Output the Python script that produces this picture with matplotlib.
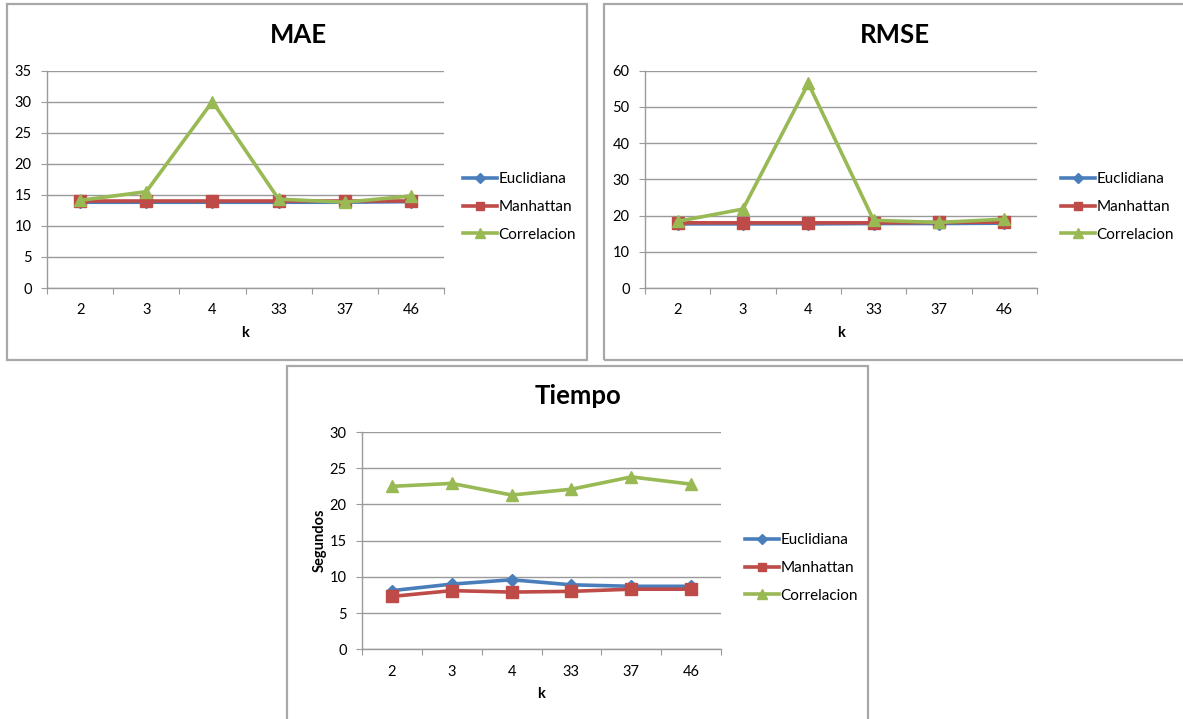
import numpy as np
import matplotlib.pyplot as plt
from matplotlib.patches import Rectangle
from matplotlib.lines import Line2D

plt.rcParams['font.family'] = ['Lato', 'DejaVu Sans']

W, H = 1183, 719

k_labels = ['2', '3', '4', '33', '37', '46']
series_names = ['Euclidiana', 'Manhattan', 'Correlacion']

mae_euc = [13.8, 13.8, 13.8, 13.8, 13.8, 13.9]
mae_man = [14.0, 14.0, 14.0, 14.0, 14.0, 14.0]
mae_cor = [14.1, 15.5, 30.0, 14.3, 13.8, 14.8]

rmse_euc = [17.7, 17.7, 17.7, 17.8, 17.8, 17.9]
rmse_man = [18.0, 18.0, 18.0, 18.0, 18.1, 18.2]
rmse_cor = [18.4, 21.8, 56.5, 18.7, 18.1, 19.0]

t_euc = [8.1, 9.0, 9.6, 8.9, 8.7, 8.7]
t_man = [7.3, 8.1, 7.9, 8.0, 8.3, 8.3]
t_cor = [22.5, 22.9, 21.3, 22.1, 23.8, 22.8]

colors = ['#4A7EBB', '#BE4B48', '#98B954']
markers = ['D', 's', '^']
msizes = [6, 8, 8.5]
grid_c = '#9a9a9a'
fs = 10.5


def px_axes(fig, x0, y0, x1, y1):
    return fig.add_axes([x0 / W, 1 - y1 / H, (x1 - x0) / W, (y1 - y0) / H])


def draw_box(fig, x0, y0, x1, y1):
    fig.add_artist(Rectangle((x0 / W, 1 - y1 / H), (x1 - x0) / W, (y1 - y0) / H,
                             transform=fig.transFigure, fill=False,
                             edgecolor='#a8a8a8', linewidth=1.6))


def chart(fig, rect, title, title_pos, data, ymax, ystep, leg_pos, ylabel=None):
    ax = px_axes(fig, *rect)
    x = np.arange(len(k_labels))
    for vals, c, m, ms, name in zip(data, colors, markers, msizes, series_names):
        ax.plot(x, vals, color=c, lw=2.6, marker=m, ms=ms, mfc=c, mec=c,
                label=name, clip_on=False)
    ax.set_xlim(-0.5, len(k_labels) - 0.5)
    ax.set_ylim(0, ymax)
    ax.set_yticks(np.arange(0, ymax + 0.1, ystep))
    ax.yaxis.grid(True, color=grid_c, lw=1.0)
    ax.set_axisbelow(True)
    for s in ['top', 'right']:
        ax.spines[s].set_visible(False)
    for s in ['left', 'bottom']:
        ax.spines[s].set_color(grid_c)
        ax.spines[s].set_linewidth(1.0)
    # tick marks between categories, labels centred on them
    ax.set_xticks(np.arange(-0.5, len(k_labels), 1.0))
    ax.set_xticklabels([])
    ax.set_xticks(x, minor=True)
    ax.set_xticklabels(k_labels, minor=True)
    ax.tick_params(axis='x', which='major', length=4, color=grid_c)
    ax.tick_params(axis='x', which='minor', length=0, pad=11, labelsize=fs)
    ax.tick_params(axis='y', length=4, color=grid_c, pad=7, labelsize=fs)
    ax.set_xlabel('k', fontweight='bold', fontsize=fs, labelpad=6)
    if ylabel:
        ax.set_ylabel(ylabel, fontweight='bold', fontsize=fs, labelpad=2)
    fig.text(title_pos[0] / W, 1 - title_pos[1] / H, title, ha='center',
             va='center', fontsize=18.5, fontweight='bold')
    handles = [Line2D([], [], color=c, lw=2.6, marker=m, ms=ms * 0.8)
               for c, m, ms in zip(colors, markers, msizes)]
    fig.legend(handles, series_names, loc='center left', frameon=False,
               bbox_to_anchor=(leg_pos[0] / W, 1 - leg_pos[1] / H),
               fontsize=fs + 0.5, handlelength=2.2, handletextpad=0.1,
               labelspacing=0.9, borderpad=0, borderaxespad=0)
    return ax


fig = plt.figure(figsize=(W / 100, H / 100), dpi=100)

draw_box(fig, 7, 4, 587, 360)
draw_box(fig, 604, 4, 1190, 360)
draw_box(fig, 287, 366, 868, 730)

chart(fig, (47, 70.5, 444, 288), 'MAE', (298, 35),
      [mae_euc, mae_man, mae_cor], 35, 5, (463, 207))
chart(fig, (645, 70.7, 1037, 288), 'RMSE', (895, 35),
      [rmse_euc, rmse_man, rmse_cor], 60, 10, (1061, 207))
chart(fig, (362, 432, 721, 649.3), 'Tiempo', (578, 396),
      [t_euc, t_man, t_cor], 30, 5, (745, 568), ylabel='Segundos')

fig.savefig('out.png', dpi=100, facecolor='white')
